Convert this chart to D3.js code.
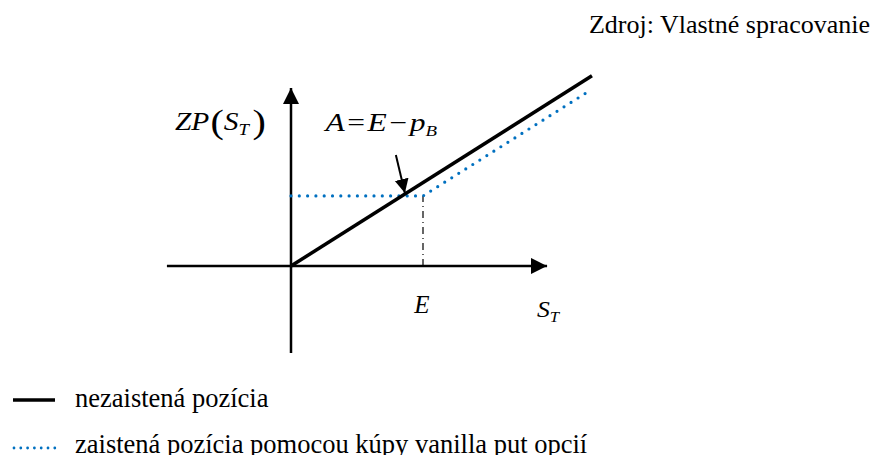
<!DOCTYPE html>
<html>
<head>
<meta charset="utf-8">
<script src="https://cdn.jsdelivr.net/npm/d3@7"></script>
<style>
  body { margin: 0; background: #fff; }
</style>
</head>
<body>
<div id="chart"></div>
<script>
// strike price and put premium (arbitrary units)
const strike = 100;
const premium = 16;
const spotRange = [-94, 194];          // S_T shown on the horizontal axis
const unhedgedS = [0, 228];            // solid line: payoff = S_T
const hedgedS = [0, 100, 227];         // dotted line: max(S_T, E) - p
const legendLabels = ["nezaistená pozícia", "zaistená pozícia pomocou kúpy vanilla put opcií"];
const sourceText = "Zdroj: Vlastné spracovanie";

const W = 881, H = 455;
const FONT = "Liberation Serif";
const svg = d3.select("#chart").append("svg").attr("width", W).attr("height", H)
  .attr("font-family", FONT);

const x = d3.scaleLinear().domain([0, 100]).range([291, 423]);
const y = d3.scaleLinear().domain([0, 100]).range([266, 182.6]);

const defs = svg.append("defs");
defs.append("marker").attr("id", "arr").attr("viewBox", "0 0 10 10")
  .attr("refX", 10).attr("refY", 5).attr("markerWidth", 6.5).attr("markerHeight", 6.5)
  .attr("markerUnits", "strokeWidth").attr("orient", "auto")
  .append("path").attr("d", "M0,0L10,5L0,10z").attr("fill", "#000");
defs.append("marker").attr("id", "arr2").attr("viewBox", "0 0 10 10")
  .attr("refX", 10).attr("refY", 5).attr("markerWidth", 7).attr("markerHeight", 7.5)
  .attr("markerUnits", "strokeWidth").attr("orient", "auto")
  .append("path").attr("d", "M0,0L10,5L0,10z").attr("fill", "#000");

// axes
svg.append("line").attr("x1", x(spotRange[0])).attr("x2", x(spotRange[1]))
  .attr("y1", y(0)).attr("y2", y(0)).attr("stroke", "#000").attr("stroke-width", 2.5)
  .attr("marker-end", "url(#arr)");
svg.append("line").attr("x1", x(0)).attr("x2", x(0))
  .attr("y1", 353).attr("y2", 88).attr("stroke", "#000").attr("stroke-width", 2.5)
  .attr("marker-end", "url(#arr)");

// guide at E
svg.append("line").attr("x1", x(strike)).attr("x2", x(strike))
  .attr("y1", y(0)).attr("y2", y(strike - premium))
  .attr("stroke", "#000").attr("stroke-width", 1.2).attr("stroke-dasharray", "7 4 1 4");

const line = d3.line().x(d => x(d[0])).y(d => y(d[1]));

// hedged position
svg.append("path")
  .datum(hedgedS.map(s => [s, Math.max(s, strike) - premium]))
  .attr("d", line).attr("fill", "none").attr("stroke", "#0070C0")
  .attr("stroke-width", 3.2).attr("stroke-linecap", "round").attr("stroke-dasharray", "0 8.3");

// unhedged position
svg.append("path")
  .datum(unhedgedS.map(s => [s, s]))
  .attr("d", line).attr("fill", "none").attr("stroke", "#000").attr("stroke-width", 3.5);

// arrow to point A
const ax = strike - premium;
svg.append("line").attr("x1", x(ax) - 6).attr("y1", y(ax) - 41)
  .attr("x2", x(ax) + 3).attr("y2", y(ax) - 3)
  .attr("stroke", "#000").attr("stroke-width", 2).attr("marker-end", "url(#arr2)");

// the equation images in the source are stretched sideways, so fit each label to its width
function fit(g, x0, x1) {
  const b = g.node().getBBox();
  const sx = (x1 - x0) / b.width;
  g.attr("transform", `translate(${x0},0) scale(${sx},1) translate(${-b.x},0)`);
}

const zpG = svg.append("g");
const zp = zpG.append("text").attr("y", 130).attr("font-size", 25);
zp.append("tspan").attr("font-style", "italic").text("ZP");
zp.append("tspan").attr("font-size", 34).attr("dx", 1).attr("dy", 3).text("(");
zp.append("tspan").attr("font-style", "italic").attr("dy", -3).text("S");
zp.append("tspan").attr("font-style", "italic").attr("font-size", 16).attr("dy", 5).text("T");
zp.append("tspan").attr("font-size", 34).attr("dy", -2).attr("dx", 3).text(")");
fit(zpG, 175, 266);

const aG = svg.append("g");
const aE = aG.append("text").attr("y", 131).attr("font-size", 25);
aE.append("tspan").attr("font-style", "italic").text("A");
aE.append("tspan").attr("dx", 2).text("=");
aE.append("tspan").attr("dx", 2).attr("font-style", "italic").text("E");
aE.append("tspan").attr("dx", 2).text("\u2212");
aE.append("tspan").attr("dx", 2).attr("font-style", "italic").text("p");
aE.append("tspan").attr("font-style", "italic").attr("font-size", 15).attr("dy", 5).text("B");
fit(aG, 323, 437);

svg.append("text").attr("x", x(strike) - 1).attr("y", 313).attr("text-anchor", "middle")
  .attr("font-size", 25).attr("font-style", "italic").text("E");

const stG = svg.append("g");
const st = stG.append("text").attr("y", 317).attr("font-size", 23);
st.append("tspan").attr("font-style", "italic").text("S");
st.append("tspan").attr("font-style", "italic").attr("font-size", 15).attr("dy", 5).text("T");
fit(stG, 537, 561);

// source
svg.append("text").attr("x", 870).attr("y", 33).attr("text-anchor", "end")
  .attr("font-size", 26).text(sourceText);

// legend
const lg = svg.append("g");
lg.append("line").attr("x1", 13).attr("x2", 55).attr("y1", 400).attr("y2", 400)
  .attr("stroke", "#000").attr("stroke-width", 3.5);
lg.append("line").attr("x1", 14).attr("x2", 55).attr("y1", 448).attr("y2", 448)
  .attr("stroke", "#0070C0").attr("stroke-width", 2.8).attr("stroke-linecap", "round")
  .attr("stroke-dasharray", "0 6.8");
lg.selectAll("text.lab").data(legendLabels).join("text").attr("class", "lab")
  .attr("x", 75).attr("y", (d, i) => 407 + i * 46)
  .attr("font-size", 26.5).text(d => d);
</script>
</body>
</html>
